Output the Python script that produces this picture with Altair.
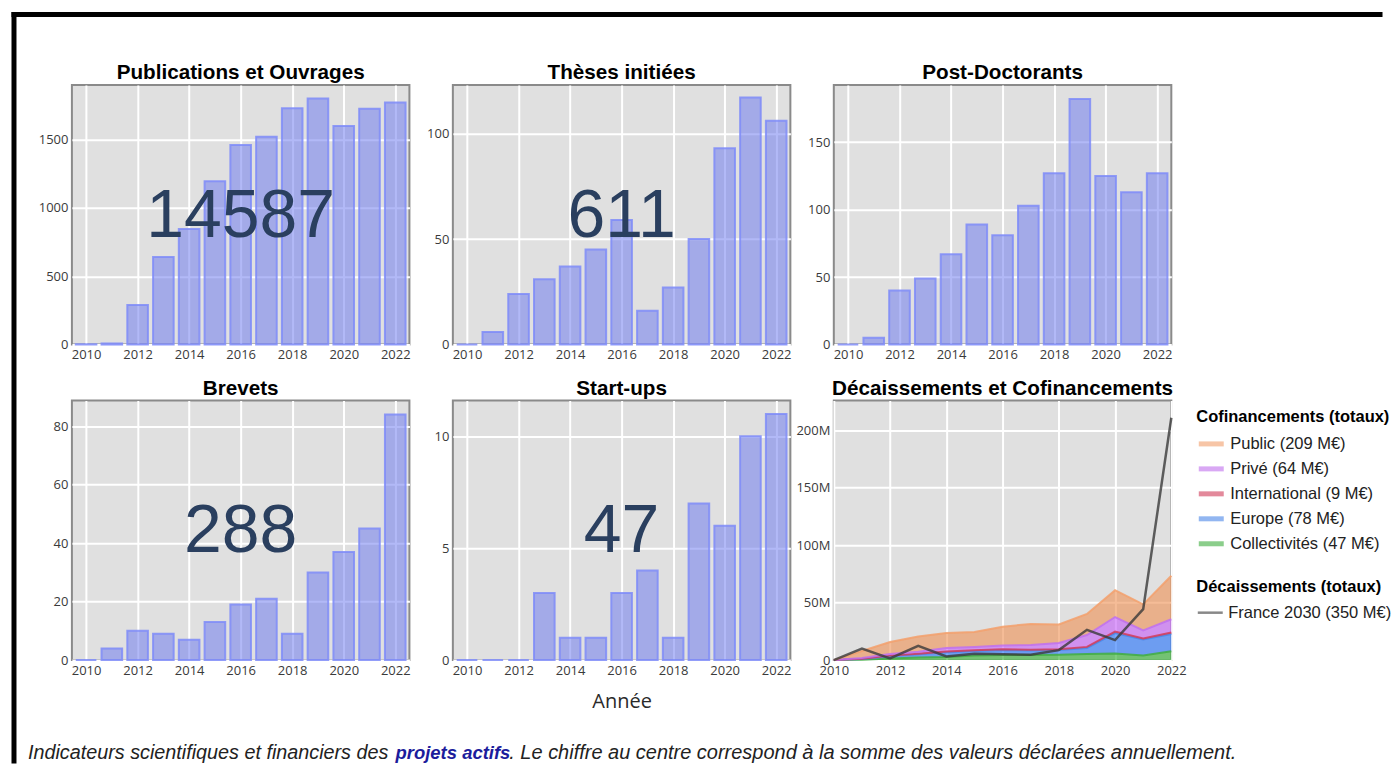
import altair as alt
import pandas as pd

years = list(range(2010, 2023))

publications = [2, 8, 290, 640, 845, 1195, 1460, 1520, 1730, 1800, 1600, 1725, 1772]
theses = [0, 6, 24, 31, 37, 45, 59, 16, 27, 50, 93, 117, 106]
postdocs = [0, 5, 40, 49, 67, 89, 81, 103, 127, 182, 125, 113, 127]
brevets = [0, 4, 10, 9, 7, 13, 19, 21, 9, 30, 37, 45, 84]
startups = [0, 0, 0, 3, 1, 1, 3, 4, 1, 7, 6, 10, 11]

# Cofinancements (M€), listed from the bottom of the stack upwards
cofi_names = ["Collectivités", "Europe", "International", "Privé", "Public"]
cofi_totals = [47, 78, 9, 64, 209]
collectivites = [0, 0.2, 1.5, 2.2, 2.8, 4.0, 4.4, 4.4, 4.6, 5.3, 5.8, 4.0, 7.8]
europe = [0, 0.8, 2.0, 2.8, 4.1, 3.9, 4.4, 4.0, 4.1, 5.3, 17.8, 13.9, 14.9]
international = [0, 0.2, 0.4, 0.5, 0.6, 0.6, 0.7, 0.7, 0.8, 0.9, 1.3, 1.0, 1.3]
prive = [0, 0.6, 1.5, 1.8, 3.0, 2.9, 3.3, 4.0, 5.4, 10.3, 12.6, 7.0, 11.6]
public = [0, 6.1, 10.4, 13.2, 13.0, 13.1, 16.3, 18.4, 16.2, 18.4, 23.4, 22.6, 37.8]
cofi_series = [collectivites, europe, international, prive, public]
cofi_fill = ["#29ae29", "#1f70fb", "#c81e3c", "#c45bf9", "#ef9051"]
cofi_line = ["#3fae3f", "#4a86e8", "#d23c5a", "#c070ee", "#f3a06c"]

# Décaissements (M€)
dec_name = "France 2030"
dec_total = 350
france2030 = [0, 10.1, 1.4, 12.5, 3.2, 5.5, 5.2, 4.6, 8.7, 26.4, 17.4, 44.3, 211]

caption_parts = [
    "Indicateurs scientifiques et financiers des",
    "projets actifs",
    ". Le chiffre au centre correspond à la somme des valeurs déclarées annuellement.",
]

W, H = 338, 260
VIEW = alt.ViewBackground(fill="#e0e0e0", stroke="#8a8a8a", strokeWidth=2)
XTICKS = list(range(2010, 2023, 2))


def ptitle(t):
    return alt.TitleParams(t, font="Liberation Sans", fontSize=20.7, fontWeight="bold",
                           color="#000000", frame="group", offset=-15, baseline="alphabetic")


def bar_panel(title, values, ymax, yticks, show_total, xtitle=None):
    df = pd.DataFrame({"year": years, "value": values})
    base = alt.Chart(df)
    if xtitle:
        xaxis = alt.Axis(values=XTICKS, format="d", title=xtitle)
    else:
        xaxis = alt.Axis(values=XTICKS, format="d", title=None)
    bars = base.transform_calculate(
        x0="datum.year - 0.4", x1="datum.year + 0.4"
    ).mark_bar(fill="#6673f0", fillOpacity=0.5, stroke="#7f8cf8", strokeWidth=2, strokeOpacity=0.85).encode(
        x=alt.X("x0:Q", scale=alt.Scale(domain=[2009.45, 2022.55], nice=False, zero=False), axis=xaxis),
        x2="x1:Q",
        y=alt.Y("value:Q", scale=alt.Scale(domain=[0, ymax], nice=False),
                axis=alt.Axis(values=yticks, format="d", title=None)),
        y2=alt.datum(0),
    )
    layers = [bars]
    if show_total:
        layers.append(
            base.transform_aggregate(total="sum(value)").mark_text(
                font="Liberation Sans", fontSize=68, color="#2a3f5f", align="center", baseline="middle", dy=2
            ).encode(x=alt.value(W / 2), y=alt.value(H / 2), text=alt.Text("total:Q", format="d"))
        )
    return alt.layer(*layers).properties(width=W, height=H, title=ptitle(title), view=VIEW)


p1 = bar_panel("Publications et Ouvrages", publications, 1900, [0, 500, 1000, 1500], True)
p2 = bar_panel("Thèses initiées", theses, 123, [0, 50, 100], True)
p3 = bar_panel("Post-Doctorants", postdocs, 192.5, [0, 50, 100, 150], False)
p4 = bar_panel("Brevets", brevets, 88.8, [0, 20, 40, 60, 80], True)
p5 = bar_panel("Start-ups", startups, 11.6, [0, 5, 10], True, xtitle="Année")

# ---- Décaissements et Cofinancements
labels = [f"{n} ({t} M€)" for n, t in zip(cofi_names, cofi_totals)]
rows = []
for i, (nm, lab, ser) in enumerate(zip(cofi_names, labels, cofi_series)):
    for y, v in zip(years, ser):
        rows.append({"year": y, "name": nm, "label": lab, "idx": i, "value": v})
cofi_df = pd.DataFrame(rows)

xs = alt.Scale(domain=[2010, 2022], nice=False, zero=False)
ys = alt.Scale(domain=[0, 226], nice=False)
xax = alt.Axis(values=XTICKS, format="d", title=None)
yax = alt.Axis(values=[0, 50, 100, 150, 200], title=None,
               labelExpr="datum.value == 0 ? '0' : datum.value + 'M'")

cbase = alt.Chart(cofi_df).transform_window(
    top="sum(value)", groupby=["year"], sort=[alt.SortField("idx")], frame=[None, 0]
).transform_calculate(bottom="datum.top - datum.value")

areas = cbase.mark_area(fillOpacity=0.6).encode(
    x=alt.X("year:Q", scale=xs, axis=xax),
    y=alt.Y("top:Q", scale=ys, axis=yax),
    y2="bottom:Q",
    fill=alt.Fill("name:N", scale=alt.Scale(domain=cofi_names, range=cofi_fill), legend=None),
)
lines = cbase.mark_line(strokeWidth=2, strokeOpacity=0.85).encode(
    x=alt.X("year:Q", scale=xs, axis=xax),
    y=alt.Y("top:Q", scale=ys, axis=yax),
    color=alt.Color("label:N", scale=alt.Scale(domain=labels[::-1], range=cofi_line[::-1]),
                    legend=alt.Legend(title="Cofinancements (totaux)", orient="none",
                                      legendX=1126, legendY=325,
                                      symbolType="stroke", symbolSize=625, symbolStrokeWidth=5,
                                      symbolOpacity=0.6)),
)
dec_label = f"{dec_name} ({dec_total} M€)"
dec_df = pd.DataFrame({"year": years, "value": france2030, "label": [dec_label] * len(years)})
dec_line = alt.Chart(dec_df).mark_line(strokeWidth=2.5, strokeOpacity=0.8).encode(
    x=alt.X("year:Q", scale=xs, axis=xax),
    y=alt.Y("value:Q", scale=ys, axis=yax),
    stroke=alt.Stroke("label:N", scale=alt.Scale(domain=[dec_label], range=["#3a3a3a"]),
                      legend=alt.Legend(title="Décaissements (totaux)", orient="none",
                                        legendX=1126, legendY=495,
                                        symbolType="stroke", symbolSize=625, symbolStrokeWidth=2.5,
                                        symbolOpacity=0.6)),
)
p6 = alt.layer(areas, lines, dec_line).properties(
    width=W, height=H, title=ptitle("Décaissements et Cofinancements"), view=VIEW
)

# ---- caption + outer frame
cap_df = pd.DataFrame({"k": [0]})
cb = alt.Chart(cap_df)
CAPF = dict(font="Liberation Sans", fontStyle="italic", align="left", baseline="alphabetic")
cap1 = cb.mark_text(color="#222222", fontSize=19.8, **CAPF).encode(
    x=alt.value(-44), y=alt.value(43), text=alt.value(caption_parts[0]))
cap2 = cb.mark_text(color="#1c1c9c", fontWeight="bold", fontSize=18.5, **CAPF).encode(
    x=alt.value(324), y=alt.value(43), text=alt.value(caption_parts[1]))
cap3 = cb.mark_text(color="#222222", fontSize=20, **CAPF).encode(
    x=alt.value(438), y=alt.value(43), text=alt.value(caption_parts[2]))
frame_v = cb.mark_rule(color="#000000", strokeWidth=5, strokeCap="square").encode(
    x=alt.value(-58), y=alt.value(-702.5), y2=alt.value(45))
frame_h = cb.mark_rule(color="#000000", strokeWidth=5, strokeCap="square").encode(
    x=alt.value(-58), x2=alt.value(1310), y=alt.value(-702.5))
caption = alt.layer(frame_v, frame_h, cap1, cap2, cap3).properties(
    width=W, height=40, view=alt.ViewBackground(fill="transparent", strokeWidth=0))

chart = alt.concat(
    p1, p2, p3, p4, p5, p6, caption,
    columns=3, spacing=alt.RowColnumber(row=56, column=43.5), bounds="flush",
).properties(
    padding={"left": 2, "top": 1.5, "right": 0, "bottom": 0}, background="white"
).configure_view(strokeWidth=0).configure_axis(
    grid=True, gridColor="#ffffff", gridWidth=2, domain=False, ticks=False,
    labelFont="Open Sans", labelFontSize=13, labelColor="#3a3a3a", labelPadding=4, labelFlush=False,
    titleFont="Open Sans", titleFontSize=20, titleFontWeight="normal", titleColor="#2a2a2a", titlePadding=14,
).configure_legend(
    titleFont="Liberation Sans", titleFontSize=16.5, titleFontWeight="bold", titleColor="#000000",
    labelFont="Liberation Sans", labelFontSize=16.5, labelColor="#222222", labelOffset=4,
    titlePadding=3, rowPadding=0, padding=0, labelLimit=400, titleLimit=400,
)

chart.save("out.html", embed_options={"renderer": "svg", "actions": False})
